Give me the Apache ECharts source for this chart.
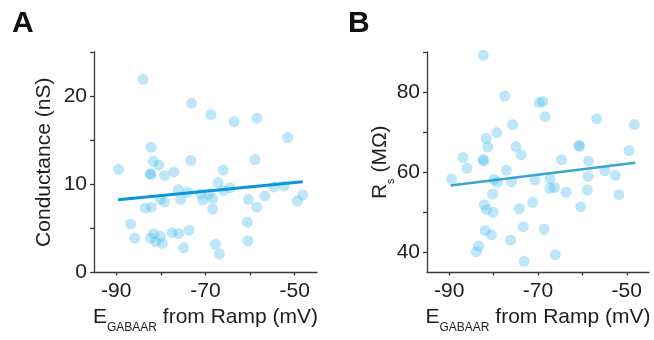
<!DOCTYPE html>
<html>
<head>
<meta charset="utf-8">
<script src="https://cdn.jsdelivr.net/npm/echarts@6/dist/echarts.min.js"></script>
<style>html,body{margin:0;padding:0;background:#fff}#c{width:654px;height:340px}</style>
</head>
<body>
<div id="c"></div>
<script>
// Panel A: Conductance (nS) vs E_GABAAR
const aX = [-84.0, -73.1, -68.8, -63.6, -58.5, -51.6, -82.2, -89.5, -81.7, -80.5, -82.4, -82.2, -79.2, -73.3, -77.1, -66.0, -58.9, -67.2, -64.5, -76.1, -74.1, -75.6, -80.1, -79.2, -71.1, -70.6, -69.3, -68.4, -66.0, -68.4, -60.4, -56.7, -58.5, -54.7, -52.4, -49.4, -48.2, -83.5, -82.1, -86.8, -85.9, -82.3, -81.6, -81.2, -80.1, -79.7, -77.5, -76.0, -73.7, -74.9, -67.8, -66.9, -60.6, -60.5];
const aY = [21.9, 19.2, 17.9, 17.1, 17.5, 15.3, 14.2, 11.7, 12.6, 12.2, 11.2, 11.1, 11.0, 12.7, 11.4, 11.6, 12.8, 10.2, 9.6, 9.4, 9.1, 8.3, 8.3, 8.0, 8.9, 8.2, 8.9, 8.4, 9.3, 7.2, 8.3, 8.7, 7.4, 9.7, 9.8, 8.1, 8.8, 7.3, 7.4, 5.5, 3.9, 3.9, 4.4, 3.5, 4.1, 3.3, 4.5, 4.4, 4.8, 2.8, 3.2, 2.1, 5.7, 3.6];
const aFitX = [-89.6, -48.2];
const aFitY = [8.25, 10.3];

// Panel B: Rs (MΩ) vs E_GABAAR
const bX = [-82.3, -77.5, -69.7, -68.9, -68.4, -56.8, -48.3, -75.7, -79.3, -81.7, -81.3, -75.0, -73.8, -60.8, -60.6, -49.5, -86.9, -86.0, -82.4, -82.2, -64.7, -58.6, -89.5, -77.1, -79.9, -79.2, -76.0, -70.7, -67.3, -66.3, -67.3, -58.7, -54.9, -52.6, -63.7, -58.9, -51.8, -80.2, -71.2, -82.1, -81.6, -80.1, -74.2, -60.4, -73.3, -68.6, -81.9, -80.5, -76.2, -83.4, -83.9, -66.1, -73.1];
const bY = [89.2, 79.0, 77.4, 77.6, 73.9, 73.3, 71.9, 71.9, 69.9, 68.4, 66.3, 66.4, 64.4, 66.7, 66.5, 65.4, 63.7, 61.0, 63.2, 62.8, 63.1, 62.8, 58.3, 60.5, 58.2, 57.5, 57.6, 58.1, 58.4, 56.2, 56.0, 59.0, 60.4, 59.2, 55.0, 55.6, 54.4, 54.6, 52.5, 51.9, 50.7, 50.0, 50.9, 51.4, 46.4, 45.8, 45.5, 44.4, 43.1, 41.6, 40.2, 39.4, 37.8];
const bFitX = [-89.7, -48.1];
const bFitY = [56.7, 62.4];

// Ticks and labels
const xTicks = [-90, -80, -70, -60, -50];
const xLabels = [-90, -70, -50];
const aYTicks = [0, 5, 10, 15, 20, 25];
const aYLabels = [0, 10, 20];
const bYTicks = [40, 50, 60, 70, 80, 90];
const bYLabels = [40, 60, 80];

const FONT = '"Liberation Sans", Arial, Helvetica, sans-serif';
const TXT = '#1e1e1e';
const AXC = '#3a3a3a';
const PT = 'rgba(60,185,238,0.42)';

function zip(xs, ys) { return xs.map((x, i) => [x, ys[i]]); }

function xAxisCfg(gi) {
  return {
    type: 'value', gridIndex: gi, min: -95, max: -45,
    splitLine: { show: false },
    axisLine: { show: true, onZero: false, lineStyle: { color: AXC, width: 1.3 } },
    axisTick: { show: true, length: 3, customValues: xTicks, lineStyle: { color: AXC, width: 1.3 } },
    axisLabel: { customValues: xLabels, fontSize: 21, color: TXT, fontFamily: FONT, margin: 8 },
    name: '{m|E}{s|GABAAR}{m| from Ramp (mV)}',
    nameLocation: 'middle', nameGap: 29, nameMoveOverlap: false,
    nameTextStyle: {
      fontFamily: FONT, color: TXT, fontSize: 21,
      rich: {
        m: { fontFamily: FONT, color: TXT, fontSize: 21, lineHeight: 32 },
        s: { fontFamily: FONT, color: TXT, fontSize: 12, lineHeight: 12, verticalAlign: 'bottom' }
      }
    }
  };
}

function yAxisCfg(gi, min, max, ticks, labels, name, gap) {
  return {
    type: 'value', gridIndex: gi, min: min, max: max,
    splitLine: { show: false },
    axisLine: { show: true, onZero: false, lineStyle: { color: AXC, width: 1.3 } },
    axisTick: { show: true, length: 4, customValues: ticks, lineStyle: { color: AXC, width: 1.3 } },
    axisLabel: { customValues: labels, fontSize: 21, color: TXT, fontFamily: FONT, margin: 7 },
    name: name, nameLocation: 'middle', nameRotate: 90, nameGap: gap, nameMoveOverlap: false,
    nameTextStyle: {
      fontFamily: FONT, color: TXT, fontSize: 21,
      rich: {
        m: { fontFamily: FONT, color: TXT, fontSize: 21, lineHeight: 32 },
        s: { fontFamily: FONT, color: TXT, fontSize: 11, lineHeight: 11, verticalAlign: 'bottom' }
      }
    }
  };
}

const chart = echarts.init(document.getElementById('c'), null, { renderer: 'canvas' });
chart.setOption({
  animation: false,
  backgroundColor: '#fff',
  grid: [
    { left: 94, top: 52, width: 223, height: 220.5, containLabel: false, outerBoundsMode: 'none' },
    { left: 427, top: 52, width: 222, height: 220.5, containLabel: false, outerBoundsMode: 'none' }
  ],
  xAxis: [xAxisCfg(0), xAxisCfg(1)],
  yAxis: [
    yAxisCfg(0, 0, 25, aYTicks, aYLabels, '{m|Conductance (nS)}', 34),
    yAxisCfg(1, 35, 90, bYTicks, bYLabels, '{m|R}{s|s}{m| (MΩ)}', 31)
  ],
  graphic: [
    { type: 'text', left: 12, top: 9, style: { text: 'A', font: 'bold 30px ' + FONT, fill: '#111' } },
    { type: 'text', left: 348, top: 9, style: { text: 'B', font: 'bold 30px ' + FONT, fill: '#111' } }
  ],
  series: [
    { type: 'scatter', xAxisIndex: 0, yAxisIndex: 0, data: zip(aX, aY), symbol: 'circle', symbolSize: 11, itemStyle: { color: PT } },
    { type: 'line', xAxisIndex: 0, yAxisIndex: 0, data: zip(aFitX, aFitY), symbol: 'none', lineStyle: { color: '#0a98dc', width: 3 }, z: 3 },
    { type: 'scatter', xAxisIndex: 1, yAxisIndex: 1, data: zip(bX, bY), symbol: 'circle', symbolSize: 11, itemStyle: { color: PT } },
    { type: 'line', xAxisIndex: 1, yAxisIndex: 1, data: zip(bFitX, bFitY), symbol: 'none', lineStyle: { color: '#3aa3d6', width: 2.5 }, z: 3 }
  ]
});
</script>
</body>
</html>
